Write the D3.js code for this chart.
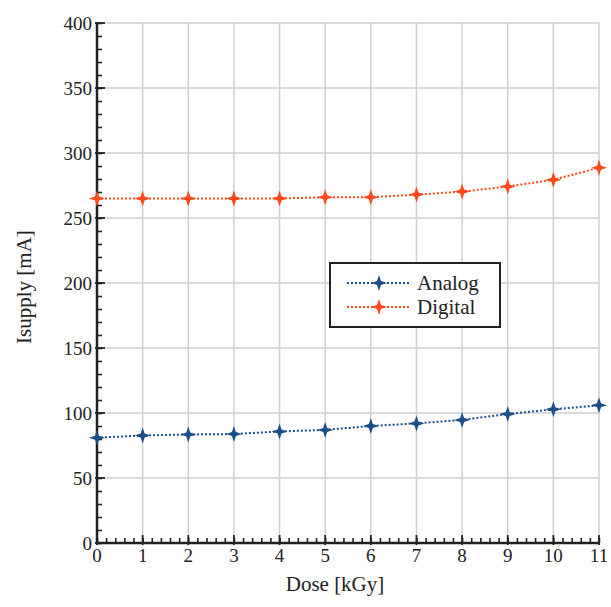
<!DOCTYPE html>
<html><head><meta charset="utf-8">
<script src="https://cdn.jsdelivr.net/npm/d3@7"></script>
<style>body{margin:0;background:#fff}svg{display:block}text{font-family:"Liberation Serif","DejaVu Serif",serif}</style>
</head><body><svg id="c" width="611" height="607"></svg>
<script>
const dose = [0,1,2,3,4,5,6,7,8,9,10,11];
const analog = [81,82.7,83.5,83.8,85.8,87,90,92,94.7,99.2,102.8,105.9];
const digital = [265,265,265,265,265,266,266,268,270.3,274.2,279.4,288.7];
const seriesNames = ["Analog","Digital"];
const colors = ["#1b4f8a","#ff4a1c"];
const xTicks = [0,1,2,3,4,5,6,7,8,9,10,11];
const yTicks = [0,50,100,150,200,250,300,350,400];

const svg = d3.select("#c");
const m = {l:97, r:599, t:23, b:543};
const x = d3.scaleLinear().domain([0,11]).range([m.l,m.r]);
const y = d3.scaleLinear().domain([0,400]).range([m.b,m.t]);

// grid
svg.append("g").selectAll("line").data(xTicks.slice(1)).join("line")
  .attr("x1",d=>x(d)).attr("x2",d=>x(d)).attr("y1",m.t).attr("y2",m.b)
  .attr("stroke","#cfcfcf").attr("stroke-width",1.5);
svg.append("g").selectAll("line").data(yTicks.slice(1)).join("line")
  .attr("x1",m.l).attr("x2",m.r).attr("y1",d=>y(d)).attr("y2",d=>y(d))
  .attr("stroke","#cfcfcf").attr("stroke-width",1.5);

// axes
const yMinor = d3.range(0,401,10);
const xMinor = d3.range(0,11.01,0.2);
const ax = svg.append("g").attr("transform",`translate(${m.l},0)`)
  .call(d3.axisRight(y).tickValues(yMinor).tickSize(5).tickFormat(""));
ax.select(".domain").remove();
ax.selectAll("line").attr("stroke","#222").attr("stroke-width",1.6);
const ax2 = svg.append("g").attr("transform",`translate(0,${m.b})`)
  .call(d3.axisTop(x).tickValues(xMinor).tickSize(5).tickFormat(""));
ax2.select(".domain").remove();
ax2.selectAll("line").attr("stroke","#222").attr("stroke-width",1.6);
// major ticks
svg.append("g").selectAll("line").data(yTicks).join("line")
  .attr("x1",m.l-2).attr("x2",m.l+8).attr("y1",d=>y(d)).attr("y2",d=>y(d))
  .attr("stroke","#222").attr("stroke-width",1.8);
svg.append("g").selectAll("line").data(xTicks).join("line")
  .attr("x1",d=>x(d)).attr("x2",d=>x(d)).attr("y1",m.b+2).attr("y2",m.b-8)
  .attr("stroke","#222").attr("stroke-width",1.8);
svg.append("line").attr("x1",m.l).attr("x2",m.l).attr("y1",m.t-1).attr("y2",m.b+1).attr("stroke","#222").attr("stroke-width",2.5);
svg.append("line").attr("x1",m.l-1).attr("x2",m.r+1).attr("y1",m.b).attr("y2",m.b).attr("stroke","#222").attr("stroke-width",2.5);

// tick labels
svg.append("g").selectAll("text").data(yTicks).join("text")
  .attr("x",m.l-5).attr("y",d=>y(d)).attr("dy","0.35em").attr("text-anchor","end")
  .attr("font-size",19).attr("fill","#222").text(d=>d);
svg.append("g").selectAll("text").data(xTicks).join("text")
  .attr("x",d=>x(d)).attr("y",m.b+19).attr("text-anchor","middle")
  .attr("font-size",19).attr("fill","#222").text(d=>d);

// axis titles
svg.append("text").attr("transform",`translate(31,${(m.t+m.b)/2+4}) rotate(-90)`)
  .attr("text-anchor","middle").attr("font-size",21).attr("fill","#222").text("Isupply [mA]");
svg.append("text").attr("x",(m.l+m.r)/2-13).attr("y",591).attr("text-anchor","middle")
  .attr("font-size",21).attr("fill","#222").text("Dose [kGy]");

// star marker
const star = {draw(ctx,size){const a=8,b=8,c=2;
  ctx.moveTo(0,-b);ctx.lineTo(c,-c);ctx.lineTo(a,0);ctx.lineTo(c,c);
  ctx.lineTo(0,b);ctx.lineTo(-c,c);ctx.lineTo(-a,0);ctx.lineTo(-c,-c);ctx.closePath();}};
const sym = d3.symbol().type(star);

const series = [analog, digital];
const line = d3.line().x((d,i)=>x(dose[i])).y(d=>y(d));
series.forEach((s,k)=>{
  svg.append("path").datum(s).attr("d",line).attr("fill","none")
    .attr("stroke",colors[k]).attr("stroke-width",2).attr("stroke-dasharray","2,2");
  svg.append("g").selectAll("path").data(s).join("path")
    .attr("transform",(d,i)=>`translate(${x(dose[i])},${y(d)})`)
    .attr("d",sym).attr("fill",colors[k]);
});

// legend
const lg = svg.append("g");
lg.append("rect").attr("x",330).attr("y",263).attr("width",170).attr("height",64)
  .attr("fill","#fff").attr("stroke","#222").attr("stroke-width",2);
seriesNames.forEach((n,k)=>{
  const yy = 283 + k*24;
  lg.append("line").attr("x1",347).attr("x2",411).attr("y1",yy).attr("y2",yy)
    .attr("stroke",colors[k]).attr("stroke-width",2).attr("stroke-dasharray","2,2");
  lg.append("path").attr("transform",`translate(379,${yy})`).attr("d",sym).attr("fill",colors[k]);
  lg.append("text").attr("x",417).attr("y",yy).attr("dy","0.35em").attr("font-size",21)
    .attr("fill","#222").text(n);
});
</script></body></html>
